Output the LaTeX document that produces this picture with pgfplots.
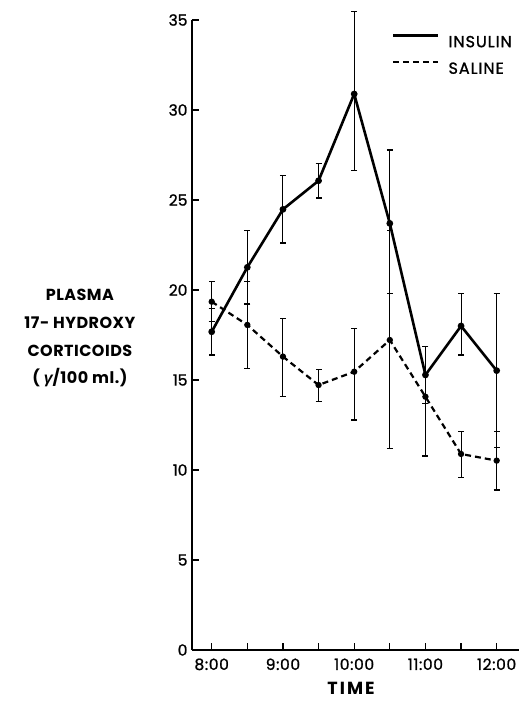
\documentclass[border=0pt]{standalone}
\usepackage{fontspec}
\setmainfont{Poppins}
\newfontfamily\greekfont{Liberation Sans}
\usepackage{pgfplots}
\usepackage{pgfplotstable}
\pgfplotsset{compat=1.18}

% one-sided caps for the error bars
\pgfdeclareplotmark{capR}{\pgfpathmoveto{\pgfqpoint{0pt}{0pt}}\pgfpathlineto{\pgfqpoint{0pt}{-6pt}}\pgfusepathqstroke}
\pgfdeclareplotmark{capL}{\pgfpathmoveto{\pgfqpoint{0pt}{0pt}}\pgfpathlineto{\pgfqpoint{0pt}{6pt}}\pgfusepathqstroke}

% time in hours, mean, error up, error down
\pgfplotstableread{
t val ep em
8.0 17.68 1.29 1.29
8.5 21.26 2.04 2.04
9.0 24.48 1.87 1.87
9.5 26.07 0.96 0.96
10.0 30.89 4.57 4.26
10.5 23.70 4.08 3.90
11.0 15.28 1.57 1.57
11.5 18.00 1.81 1.61
12.0 15.52 4.29 4.29
}\insulin

\pgfplotstableread{
t val ep em
8.0 19.35 1.11 1.11
8.5 18.06 2.41 2.41
9.0 16.30 2.13 2.23
9.5 14.72 0.85 0.92
10.0 15.46 2.41 2.68
10.5 17.22 6.10 6.02
11.0 14.07 2.80 3.29
11.5 10.89 1.24 1.32
12.0 10.52 1.63 1.63
}\saline

\begin{document}
\begin{tikzpicture}
\begin{axis}[
  scale only axis,
  width=340.3pt, height=630pt,
  xmin=7.7235, xmax=12.5, ymin=0, ymax=35,
  axis lines=left,
  axis line style={-, line width=1.4pt},
  tick align=inside,
  major tick length=7pt,
  tick style={line width=1.3pt, black},
  xtick={8,8.5,9,9.5,10,10.5,11,11.5,12},
  xticklabels={8:00,,9:00,,10:00,,11:00,,12:00},
  ytick={0,5,10,15,20,25,30,35},
  /pgf/number format/assume math mode=true,
  xticklabel style={font=\fontsize{15.5}{15.5}\selectfont\addfontfeature{LetterSpace=4,FakeBold=1.2}, yshift=-5pt},
  yticklabel style={font=\fontsize{15.5}{15.5}\selectfont\addfontfeature{FakeBold=1.2}, xshift=-1pt},
  clip=false,
  legend style={draw=none, fill=none, inner sep=0pt, outer sep=0pt,
    at={(axis cs:10.53,34.2)}, anchor=north west,
    font=\fontsize{16}{16}\selectfont\addfontfeature{LetterSpace=6,FakeBold=1.2},
    nodes={inner sep=0pt, text height=12pt, text depth=0pt},
    row sep=14pt, column sep=9pt},
  legend cell align=left,
  legend image code/.code={\draw[#1, mark=none] (0pt,5.5pt) -- (45pt,5.5pt);},
]
\addplot[black, line width=2.6pt, mark=*, mark size=2pt, mark options={solid},
  error bars/.cd, y dir=both, y explicit, error mark=capR,
  error bar style={line width=1.1pt, solid},
  error mark options={line width=1.1pt, black}]
  table[x=t, y=val, y error plus=ep, y error minus=em]{\insulin};
\addlegendentry{INSULIN}
\addplot[black, line width=2.2pt, dash pattern=on 6pt off 4pt, mark=*, mark size=2pt, mark options={solid},
  error bars/.cd, y dir=both, y explicit, error mark=capL,
  error bar style={line width=1.1pt, solid},
  error mark options={line width=1.1pt, black}]
  table[x=t, y=val, y error plus=ep, y error minus=em]{\saline};
\addlegendentry{SALINE}

\node[font=\fontsize{16}{27.7}\selectfont\bfseries\addfontfeature{LetterSpace=3}, align=center]
  at (axis cs:6.15,17.31) {PLASMA\\17- HYDROXY\\CORTICOIDS\\( {\greekfont\bfseries\itshape γ}/100 ml.)};
\node[font=\fontsize{17.5}{17.5}\selectfont\bfseries\addfontfeature{LetterSpace=12}, inner sep=0pt, outer sep=0pt]
  at (axis cs:9.955,-2.15) {TIME};
\end{axis}
\pgfresetboundingbox
\path[use as bounding box] (-192pt,-51pt) rectangle (327pt,650pt);
\end{tikzpicture}
\end{document}
